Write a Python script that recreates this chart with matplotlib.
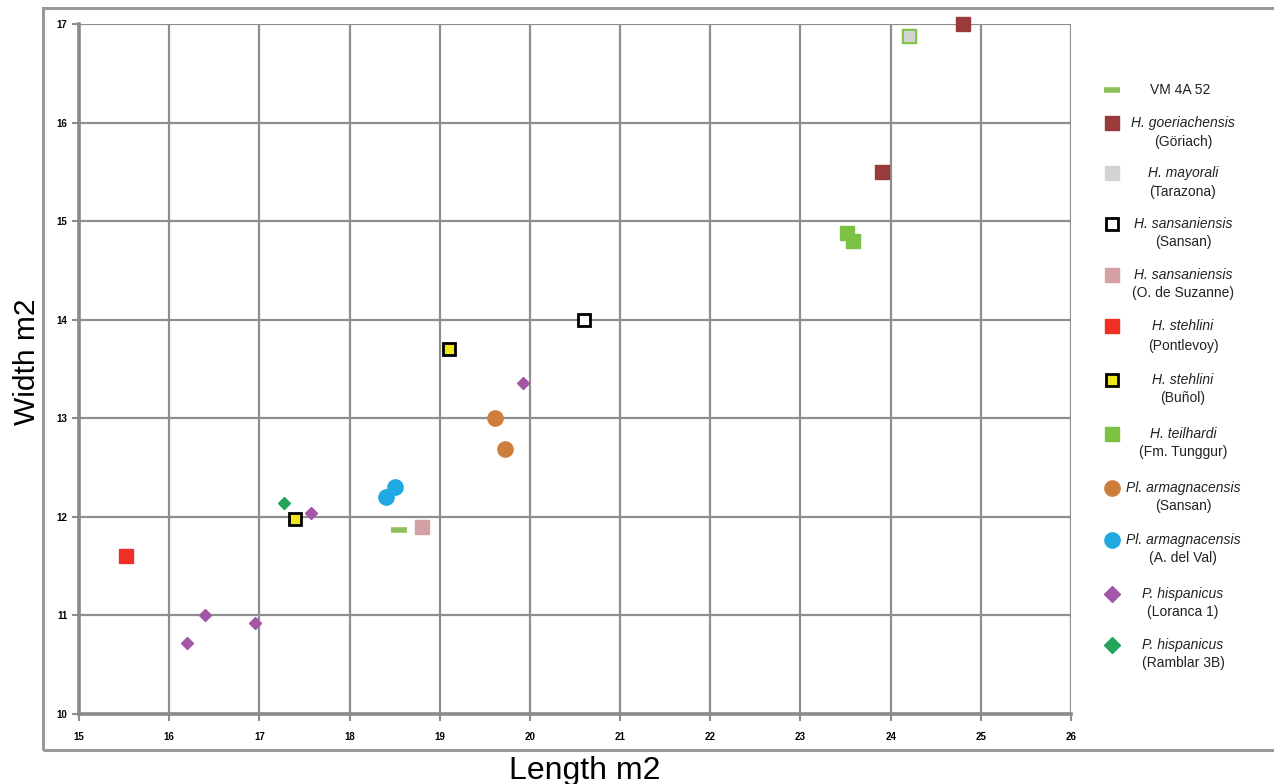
import matplotlib.pyplot as plt
from matplotlib.lines import Line2D
from matplotlib.patches import Rectangle

plt.rcParams['font.family'] = ['Liberation Sans', 'DejaVu Sans']

# species / locality groups and their measurements (length, width)
vm_x = [18.55]
vm_y = [11.87]

goer_x = [24.8, 23.9]
goer_y = [17.0, 15.5]

teil_x = [24.2, 23.52, 23.58]
teil_y = [16.88, 14.88, 14.8]

mayo_x = [24.2]
mayo_y = [16.88]

sans_x = [20.6]
sans_y = [14.0]

suz_x = [18.8]
suz_y = [11.9]

pont_x = [15.52]
pont_y = [11.6]

bun_x = [19.1, 17.4]
bun_y = [13.7, 11.98]

plsans_x = [19.61, 19.72]
plsans_y = [13.0, 12.69]

plval_x = [18.4, 18.5]
plval_y = [12.2, 12.3]

lor_x = [16.2, 16.4, 16.95, 17.57, 19.92]
lor_y = [10.72, 11.0, 10.92, 12.04, 13.36]

ram_x = [17.27]
ram_y = [12.14]

x_ticks = list(range(15, 27))
y_ticks = list(range(10, 18))

fig = plt.figure(figsize=(12.74, 7.84), dpi=100)

# outer chart frame (open on the right)
fig.add_artist(Rectangle((43 / 1274, 1 - 750 / 784), 1.2, (750 - 8) / 784,
                         transform=fig.transFigure, fill=False,
                         edgecolor='#9a9a9a', linewidth=2.2, clip_on=False))

ax = fig.add_axes([79 / 1274, 1 - 714 / 784, (1071 - 79) / 1274, (714 - 24) / 784])

ax.set_xlim(15, 26)
ax.set_ylim(10, 17)
ax.set_xticks(x_ticks)
ax.set_yticks(y_ticks)
ax.grid(True, color='#8e8e8e', linewidth=1.6)
ax.set_axisbelow(True)
for side in ['top', 'right']:
    ax.spines[side].set_visible(False)
for side in ['left', 'bottom']:
    ax.spines[side].set_color('#8a8a8a')
    ax.spines[side].set_linewidth(2.6)
ax.tick_params(axis='both', direction='out', length=5, width=1.5,
               color='#8e8e8e', labelsize=7)
ax.tick_params(axis='x', pad=8)
for lab in ax.get_xticklabels() + ax.get_yticklabels():
    lab.set_fontweight('bold')

ax.set_xlabel('Length m2', fontsize=23, va='baseline')
ax.xaxis.set_label_coords(0.51, -0.094)
ax.set_ylabel('Width m2', fontsize=21.5)
ax.yaxis.set_label_coords(-0.038, 0.51)

# plotting points
ax.plot(vm_x, vm_y, linestyle='none', marker='_', markersize=12,
        markeredgewidth=4, color='#8cc05a', clip_on=False)
ax.plot(goer_x, goer_y, linestyle='none', marker='s', markersize=10,
        color='#9b3a3b', clip_on=False)
ax.plot(teil_x, teil_y, linestyle='none', marker='s', markersize=10,
        color='#7cc242', clip_on=False)
ax.plot(mayo_x, mayo_y, linestyle='none', marker='s', markersize=7.5,
        color='#d3d3d3', clip_on=False)
ax.plot(sans_x, sans_y, linestyle='none', marker='s', markersize=9,
        markerfacecolor='white', markeredgecolor='black', markeredgewidth=2)
ax.plot(suz_x, suz_y, linestyle='none', marker='s', markersize=10,
        color='#d4a0a3')
ax.plot(pont_x, pont_y, linestyle='none', marker='s', markersize=10,
        color='#ee3124')
ax.plot(bun_x, bun_y, linestyle='none', marker='s', markersize=9,
        markerfacecolor='#f0e61e', markeredgecolor='black', markeredgewidth=2)
ax.plot(plsans_x, plsans_y, linestyle='none', marker='o', markersize=11,
        color='#cd7e3c')
ax.plot(plval_x, plval_y, linestyle='none', marker='o', markersize=11,
        color='#20a8e2')
ax.plot(lor_x, lor_y, linestyle='none', marker='D', markersize=6,
        color='#a456a6')
ax.plot(ram_x, ram_y, linestyle='none', marker='D', markersize=6,
        color='#22a55b')

# legend drawn by hand: marker + centred two-line label
leg_items = [
    (90, None, 'VM 4A 52', None),
    (123, 142, 'H. goeriachensis', '(Göriach)'),
    (173, 192, 'H. mayorali', '(Tarazona)'),
    (224, 242, 'H. sansaniensis', '(Sansan)'),
    (275, 293, 'H. sansaniensis', '(O. de Suzanne)'),
    (326, 346, 'H. stehlini', '(Pontlevoy)'),
    (380, 398, 'H. stehlini', '(Buñol)'),
    (434, 452, 'H. teilhardi', '(Fm. Tunggur)'),
    (488, 506, 'Pl. armagnacensis', '(Sansan)'),
    (540, 558, 'Pl. armagnacensis', '(A. del Val)'),
    (594, 612, 'P. hispanicus', '(Loranca 1)'),
    (645, 663, 'P. hispanicus', '(Ramblar 3B)'),
]
leg_styles = [
    dict(marker='_', markersize=12, markeredgewidth=4, color='#8cc05a'),
    dict(marker='s', markersize=10, color='#9b3a3b'),
    dict(marker='s', markersize=10, color='#d3d3d3'),
    dict(marker='s', markersize=9, markerfacecolor='white',
         markeredgecolor='black', markeredgewidth=2),
    dict(marker='s', markersize=10, color='#d4a0a3'),
    dict(marker='s', markersize=10, color='#ee3124'),
    dict(marker='s', markersize=9, markerfacecolor='#f0e61e',
         markeredgecolor='black', markeredgewidth=2),
    dict(marker='s', markersize=10, color='#7cc242'),
    dict(marker='o', markersize=11, color='#cd7e3c'),
    dict(marker='o', markersize=11, color='#20a8e2'),
    dict(marker='D', markersize=8, color='#a456a6'),
    dict(marker='D', markersize=8, color='#22a55b'),
]
for (y1, y2, name, place), style in zip(leg_items, leg_styles):
    fig.add_artist(Line2D([1112 / 1274], [1 - y1 / 784], linestyle='none',
                          transform=fig.transFigure, **style))
    if place is None:
        fig.text(1180 / 1274, 1 - y1 / 784, name, fontsize=10,
                 ha='center', va='center', color='#222222')
    else:
        fig.text(1183 / 1274, 1 - y1 / 784, name, fontsize=10,
                 style='italic', ha='center', va='center', color='#222222')
        fig.text(1183 / 1274, 1 - y2 / 784, place, fontsize=10,
                 ha='center', va='center', color='#222222')

fig.savefig('out.png', dpi=100)
